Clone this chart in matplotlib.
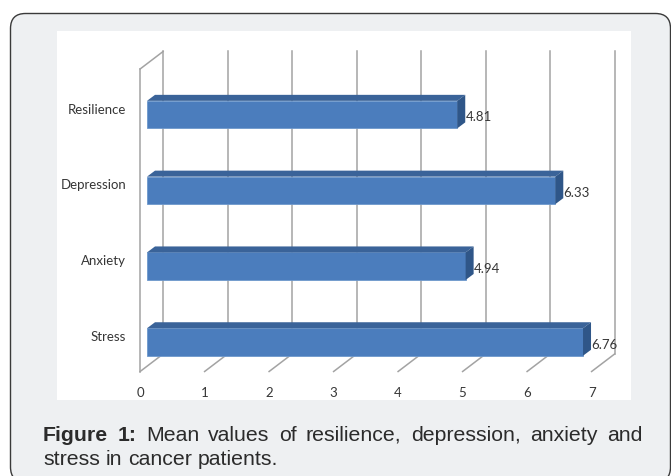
import matplotlib
matplotlib.use("Agg")
import matplotlib.pyplot as plt
from matplotlib.patches import FancyBboxPatch, Rectangle, Polygon
from matplotlib.transforms import IdentityTransform

# mean scores, bottom to top
categories = ["Stress", "Anxiety", "Depression", "Resilience"]
means = [6.76, 4.94, 6.33, 4.81]
xticks = [0, 1, 2, 3, 4, 5, 6, 7]
caption_head = "Figure 1:"
caption_lines = ["Mean values of resilience, depression, anxiety and",
                 "stress in cancer patients."]

W, H = 671, 477
fig = plt.figure(figsize=(W / 100, H / 100), dpi=100)
fig.patch.set_facecolor("white")
ident = IdentityTransform()

# rounded grey frame and white chart panel (pixel coords, origin top-left)
frame = FancyBboxPatch((10.5, H - 483), 660, 483 - 14.5,
                       boxstyle="round,pad=0,rounding_size=15",
                       transform=ident, fc="#eef0f2", ec="#3a3a3a", lw=1.0,
                       zorder=-2)
fig.patches.append(frame)
panel = Rectangle((57, H - 401), 631 - 57, 401 - 32, transform=ident,
                  fc="white", ec="none", zorder=-1)
fig.patches.append(panel)

# plot area: data coords live in the plane of the bar fronts
px_unit = 64.5      # pixels per value unit
px_cat = 75.8       # pixels between bars
x0_px = 147
y_stress_px = 343
ax = fig.add_axes([x0_px / W, (H - (y_stress_px + 0.5 * px_cat)) / H,
                   7 * px_unit / W, 4 * px_cat / H])
ax.set_xlim(0, 7)
ax.set_ylim(-0.5, 3.5)
ax.axis("off")

# 3d depth of the walls, and where the bars sit inside it
ddx = 23 / px_unit
ddy = 17.5 / px_cat
bar_d = 0.3
c_floor = -0.32
c_top = 3.671


def proj(v, c, d):
    return v + (d - bar_d) * ddx, c + (d - bar_d) * ddy


grid_kw = dict(color="#a3a3a3", lw=1.1, clip_on=False, zorder=1)
txt_kw = dict(fontsize=9.5, family="Lato", color="#363636", clip_on=False)

# left side wall
for c in (c_floor, c_top):
    a, b = proj(0, c, 0), proj(0, c, 1)
    ax.plot([a[0], b[0]], [a[1], b[1]], **grid_kw)
a, b = proj(0, c_floor, 0), proj(0, c_top, 0)
ax.plot([a[0], b[0]], [a[1], b[1]], **grid_kw)

# back wall gridlines and floor lines
for v in xticks:
    a, b = proj(v, c_floor, 1), proj(v, c_top, 1)
    ax.plot([a[0], b[0]], [a[1], b[1]], **grid_kw)
    if v > 0:
        a, b = proj(v, c_floor, 0), proj(v, c_floor, 1)
        ax.plot([a[0], b[0]], [a[1], b[1]], **grid_kw)
    fx, fy = proj(v, c_floor, 0)
    ax.text(fx, fy - 0.27, str(v), ha="center", va="center", **txt_kw)

# bars
h = 0.363
bdx = 8 / px_unit
bdy = 6 / px_cat
front_c = "#4b7dbd"
top_c = "#3a6399"
side_c = "#2f5688"
for i, (name, m) in enumerate(zip(categories, means)):
    ax.barh(i, m, height=h, color=front_c, edgecolor="#6e98cc", lw=0.6,
            zorder=3, clip_on=False)
    top = [(0, i + h / 2), (m, i + h / 2), (m + bdx, i + h / 2 + bdy),
           (bdx, i + h / 2 + bdy)]
    ax.add_patch(Polygon(top, closed=True, fc=top_c, ec="none", zorder=3,
                         clip_on=False))
    side = [(m, i - h / 2), (m, i + h / 2), (m + bdx, i + h / 2 + bdy),
            (m + bdx, i - h / 2 + bdy)]
    ax.add_patch(Polygon(side, closed=True, fc=side_c, ec="none", zorder=3,
                         clip_on=False))
    ax.text(m + 0.13, i - 0.02, f"{m:.2f}", ha="left", va="center",
            zorder=4, **txt_kw)
    ax.text(-21 / px_unit, i + 0.08, name, ha="right", va="center", **txt_kw)

# caption, first line justified
renderer = fig.canvas.get_renderer()
cap_size = 15.3
cap_kw = dict(fontsize=cap_size, family="Liberation Sans", color="#2b2b2b",
              transform=ident, va="baseline")


def caption_line(words, y_px, left, right, justify):
    arts = [fig.text(0, 0, w, fontweight="bold" if bold else "normal", **cap_kw)
            for w, bold in words]
    widths = [t.get_window_extent(renderer).width for t in arts]
    if justify:
        gap = (right - left - sum(widths)) / (len(arts) - 1)
    else:
        gap = 0.278 * cap_size * 100 / 72
    x = left
    for t, w in zip(arts, widths):
        t.set_position((x, H - y_px))
        x += w + gap


line1 = [(w, True) for w in caption_head.split()] + \
        [(w, False) for w in caption_lines[0].split()]
caption_line(line1, 441, 43, 642, True)
caption_line([(w, False) for w in caption_lines[1].split()], 465, 43, 642, False)

fig.savefig("out.png", dpi=100, facecolor=fig.get_facecolor())
